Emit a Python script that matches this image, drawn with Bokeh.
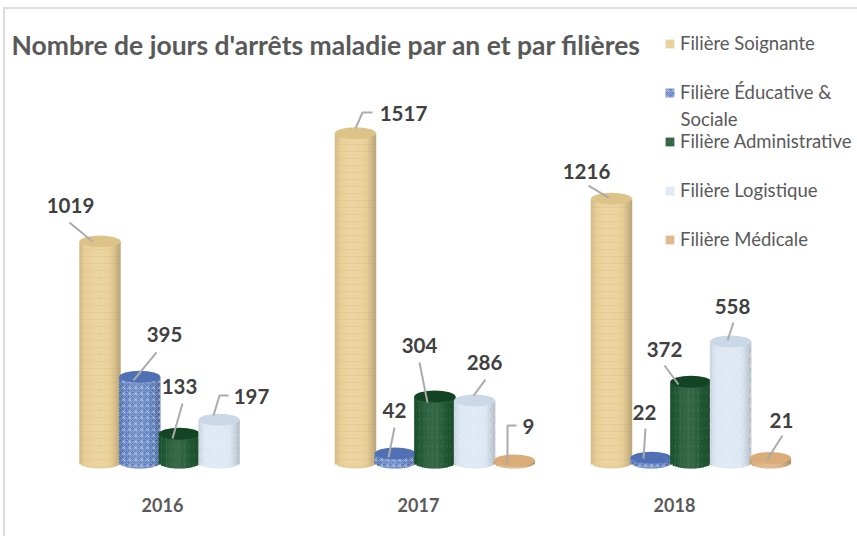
from bokeh.plotting import figure
from bokeh.models import ColumnDataSource, Range1d, FixedTicker, Legend, LegendItem, Label
from bokeh.embed import file_html
from bokeh.resources import INLINE
from bokeh.core.properties import value as val
import math

# ---- data
years = ["2016", "2017", "2018"]
series = ["Filière Soignante", "Filière Éducative &", "Filière Administrative", "Filière Logistique", "Filière Médicale"]
soignante = [1019, 1517, 1216]
educative = [395, 42, 22]
administrative = [133, 304, 372]
logistique = [197, 286, 558]
medicale = [None, 9, 21]
all_values = [soignante, educative, administrative, logistique, medicale]

# ---- style
colors = ["#E9CF96", "#5476BA", "#174F29", "#D6E3F1", "#DDB284"]
top_colors = ["#DCC388", "#4F70B4", "#134424", "#CBD8E8", "#D9AC78"]
hatches = [("horizontal_line", "#B89A5A", 0.14, 7), ("criss_cross", "#DCE6F8", 0.40, 6),
           ("spiral", "#5FA070", 0.22, 9), ("spiral", "#FFFFFF", 0.40, 10), (None, "#000000", 0, 1)]
FONT = "Lato"
TXT = "#595959"
DARK = "#404040"
PX = 0.217            # pixels per unit
BASE = 462            # page y of value 0
FRAME_TOP, FRAME_BOTTOM = 30, 485
first_bar = [99.5, 355, 611]
pitch = 39.7
bar_w = 41
ell_h = 12
n_strips = 16

# label offsets and leader offsets in pixels from each bar's top centre, (year, series) keyed
label_off = {
 (0,0):(-29.5,-35.9),(0,1):(24.8,-42.3),(0,2):(0.1,-47.1),(0,3):(32.4,-23.3),
 (1,0):(48,-19.8),(1,1):(-0.7,-42.9),(1,2):(-15.4,-51),(1,3):(9.9,-37.9),(1,4):(14.2,-34),
 (2,0):(-25,-27.1),(2,1):(-6.7,-45.2),(2,2):(-26.4,-32.3),(2,3):(1.9,-34.9),(2,4):(11.2,-37.4)}
leader_off = {
 (0,0):[(-30.5,-18.9),(-7.5,0.1)],(0,1):[(16.8,-24.3),(-6.2,3.7)],(0,2):[(3.1,-30.1),(-6.9,4.9)],
 (0,3):[(9.4,-24.3),(0.4,-24.3),(-5.6,-4.3)],
 (1,0):[(17,-20.8),(7,-20.8),(0,-4.8)],(1,1):[(-0.7,-25.9),(-6.7,4.1)],(1,2):[(-15.4,-34),(-7.4,6)],
 (1,3):[(10.9,-20.9),(-1.1,-4.9)],(1,4):[(2.2,-35),(-6.8,-35),(-6.8,4)],
 (2,0):[(-23,-13.1),(-3,-1.1)],(2,1):[(-5.7,-29.2),(-7.7,0.8)],(2,2):[(-26.4,-16.3),(-12.4,2.7)],
 (2,3):[(2.9,-18.9),(-3.1,-0.9)],(2,4):[(12.2,-22.4),(-3.8,2.6)]}

def shade(hex_color, f):
    r, g, b = (int(hex_color[i:i+2], 16) for i in (1, 3, 5))
    if f <= 1:
        c = [v * f for v in (r, g, b)]
    else:
        c = [v + (255 - v) * (f - 1) for v in (r, g, b)]
    return "#%02x%02x%02x" % tuple(int(round(x)) for x in c)

H = FRAME_BOTTOM - FRAME_TOP
y0 = -(FRAME_BOTTOM - BASE) / PX
p = figure(frame_width=857, frame_height=H, x_range=Range1d(0, 857), y_range=Range1d(y0, y0 + H / PX),
           output_backend="svg", toolbar_location=None, min_border_left=0, min_border_right=0,
           min_border_top=FRAME_TOP, min_border_bottom=51, y_axis_location=None,
           title="Nombre de jours d'arrêts maladie par an et par filières",
           background_fill_color=None, border_fill_color=None, outline_line_color=None,
           styles={"background": "linear-gradient(#dcdcdc,#dcdcdc) 3px 7px/2px 100% no-repeat,"
                                 "linear-gradient(#dcdcdc,#dcdcdc) 3px 7px/100% 2px no-repeat"})
p.grid.visible = False
p.title.text_font = FONT
p.title.text_font_size = "26.5px"
p.title.text_font_style = "bold"
p.title.text_color = TXT
p.title.offset = 11
p.title.standoff = -60

ax = p.xaxis[0]
ax.ticker = FixedTicker(ticks=[162, 418, 674])
ax.major_label_overrides = {162: years[0], 418: years[1], 674: years[2]}
ax.axis_line_color = None
ax.major_tick_line_color = None
ax.minor_tick_line_color = None
ax.major_label_text_font = FONT
ax.major_label_text_font_size = "18px"
ax.major_label_text_font_style = "bold"
ax.major_label_text_color = TXT
ax.major_label_standoff = 6

legend_items = []
lab_x, lab_y, lab_t, lab_dx, lab_dy = [], [], [], [], []
lead_xs, lead_ys = [], []

for s, vals in enumerate(all_values):
    xs, tops, bots, widths, cols = [], [], [], [], []
    ex, ey = [], []
    for g, v in enumerate(vals):
        if v is None:
            continue
        cx = first_bar[g] + s * pitch
        for i in range(n_strips):
            t = (i + 0.5) / n_strips * 2 - 1
            xs.append(cx + t * bar_w / 2)
            widths.append(bar_w / n_strips + 0.5)
            tops.append(v)
            bots.append(-(ell_h / 2) * math.sqrt(1 - t * t) / PX)
            f = 0.84 + 0.26 * (1 - abs(t + 0.1) ** 2)
            cols.append(shade(colors[s], f))
        ex.append(cx)
        ey.append(v)
        lab_x.append(cx); lab_y.append(v); lab_t.append(str(v))
        dx, dy = label_off[(g, s)]
        lab_dx.append(dx); lab_dy.append(dy)
        pts = leader_off[(g, s)]
        lead_xs.append([cx + a for a, _ in pts])
        lead_ys.append([v - b / PX for _, b in pts])
    src = ColumnDataSource(dict(x=xs, top=tops, bottom=bots, width=widths, color=cols))
    pat, hc, ha, hs = hatches[s]
    kw = dict(hatch_pattern=pat, hatch_color=hc, hatch_alpha=ha, hatch_scale=hs) if pat else {}
    r = p.vbar(x="x", top="top", bottom="bottom", width="width", source=src,
               fill_color="color", line_color=None, **kw)
    p.ellipse(x=ex, y=ey, width=bar_w, height=ell_h, width_units="screen", height_units="screen",
              fill_color=top_colors[s], line_color=None)
    legend_items.append(LegendItem(label=series[s], renderers=[r], index=n_strips // 2))

p.multi_line(xs=lead_xs, ys=lead_ys, line_color="#ABABAB", line_width=2)
p.text(x=lab_x, y=lab_y, text=lab_t, x_offset=lab_dx, y_offset=lab_dy,
       text_font=val(FONT), text_font_size="20.5px", text_font_style="bold", text_color=DARK,
       text_align="center", text_baseline="middle")

legend = Legend(items=legend_items, location=(664, 235), orientation="vertical",
                glyph_width=11, glyph_height=11, label_height=20, label_width=150, spacing=27,
                label_standoff=5, padding=0, margin=0, border_line_color=None,
                background_fill_color=None, background_fill_alpha=0,
                label_text_font=FONT, label_text_font_size="18.5px", label_text_color=TXT,
                click_policy="none")
p.add_layout(legend, "center")
p.add_layout(Label(x=680, y=(BASE - 118) / PX, text="Sociale", text_font=FONT, text_font_size="18.5px",
                   text_color=TXT, text_baseline="middle"))

open("out.html", "w").write(file_html(p, INLINE))
